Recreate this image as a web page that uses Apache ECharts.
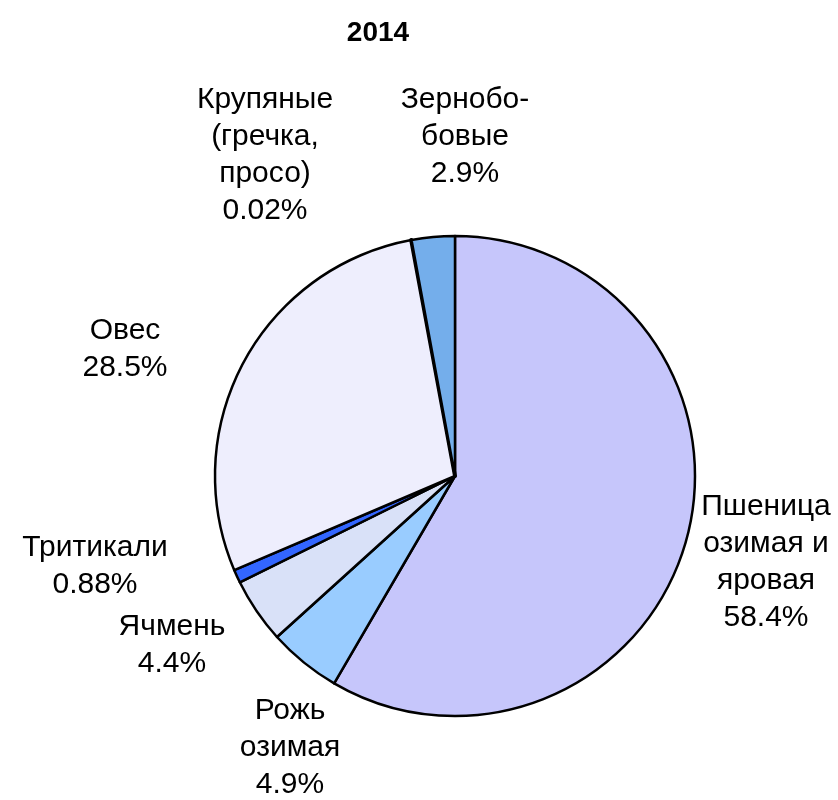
<!DOCTYPE html>
<html>
<head>
<meta charset="utf-8">
<script src="https://cdn.jsdelivr.net/npm/echarts@6/dist/echarts.min.js"></script>
<style>
  html, body { margin: 0; padding: 0; background: #fff; }
  #chart { width: 838px; height: 800px; }
</style>
</head>
<body>
<div id="chart"></div>
<script>
// данные 2014
var names = ['Пшеница\nозимая и\nяровая', 'Рожь\nозимая', 'Ячмень', 'Тритикали', 'Овес', 'Крупяные\n(гречка,\nпросо)', 'Зернобо-\nбовые'];
var shares = [58.4, 4.9, 4.4, 0.88, 28.5, 0.02, 2.9];
var shareLabels = ['58.4%', '4.9%', '4.4%', '0.88%', '28.5%', '0.02%', '2.9%'];
var colors = ['#c6c6fb', '#99ccff', '#d9e1f8', '#3366ff', '#eeeefd', '#000000', '#74aeeb'];

// центры подписей
var labelX = [766, 290, 172, 95, 125, 265, 465];
var labelY = [562, 748, 645, 566, 349, 155, 137];

var chart = echarts.init(document.getElementById('chart'));

var pieData = [];
for (var i = 0; i < shares.length; i++) {
	pieData.push({
		name: names[i],
		value: shares[i],
		itemStyle: { color: colors[i], borderWidth: shares[i] < 0.1 ? 4 : 2.5 }
	});
}

var option = {
	animation: false,
	title: {
		text: '2014',
		left: 373,
		top: 14,
		textAlign: 'center',
		textStyle: {
			fontFamily: 'Liberation Sans',
			fontSize: 28,
			fontWeight: 'bold',
			color: '#000'
		}
	},
	series: [{
		type: 'pie',
		center: [455, 476],
		radius: [0, 240],
		startAngle: 90,
		clockwise: true,
		minAngle: 0,
		avoidLabelOverlap: false,
		itemStyle: {
			borderColor: '#000',
			borderWidth: 2.5
		},
		label: {
			show: true,
			position: 'outside',
			fontFamily: 'Liberation Sans',
			fontSize: 30,
			lineHeight: 37,
			color: '#000',
			align: 'center',
			formatter: function (p) {
				return p.name + '\n' + shareLabels[p.dataIndex];
			}
		},
		labelLine: { show: false },
		labelLayout: function (p) {
			return {
				x: labelX[p.dataIndex],
				y: labelY[p.dataIndex],
				align: 'center',
				verticalAlign: 'middle'
			};
		},
		emphasis: { disabled: true },
		data: pieData
	}]
};

chart.setOption(option);
</script>
</body>
</html>
